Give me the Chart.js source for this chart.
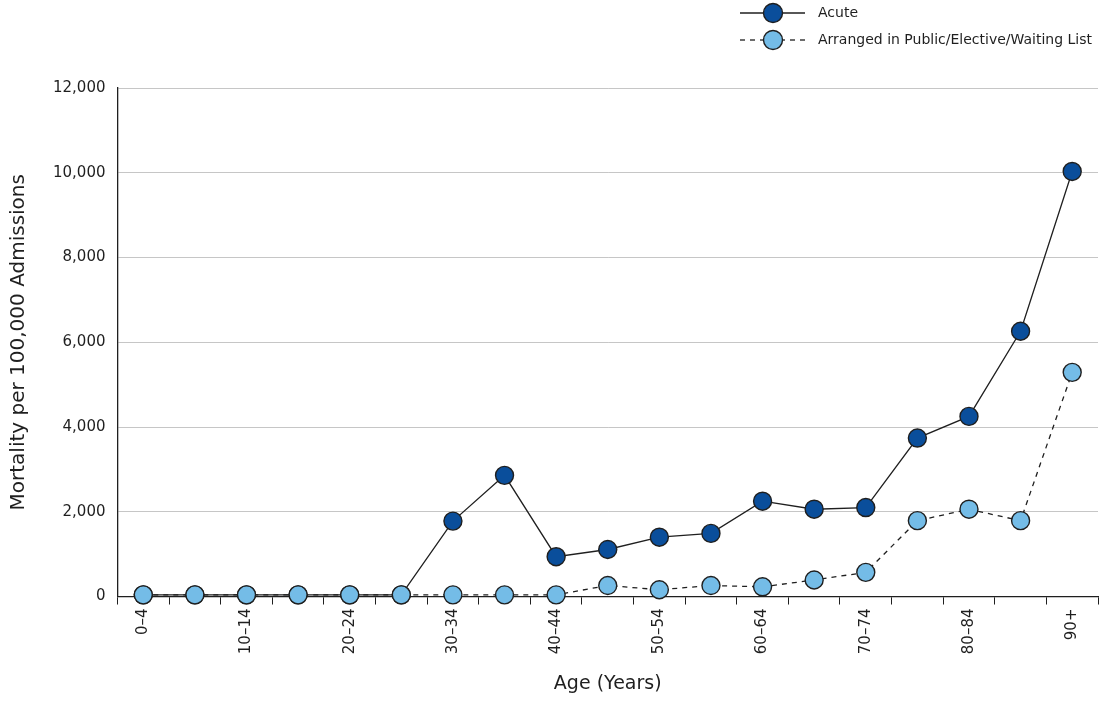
<!DOCTYPE html>
<html>
<head>
<meta charset="utf-8">
<script src="https://cdn.jsdelivr.net/npm/chart.js@4/dist/chart.umd.min.js"></script>
<style>
    html, body { margin: 0; padding: 0; background: #fff; }
    #wrap { width: 1104px; height: 713px; position: relative; }
</style>
</head>
<body>
<div id="wrap"><canvas id="mortalityChart"></canvas></div>
<script>
// age groups (x axis)
const ageGroups = ['0–4', '5–9', '10–14', '15–19', '20–24', '25–29', '30–34', '35–39', '40–44',
    '45–49', '50–54', '55–59', '60–64', '65–69', '70–74', '75–79', '80–84', '85–89', '90+'];

// mortality per 100,000 admissions
const acuteValues = [40, 40, 40, 40, 40, 40, 1780, 2860, 940, 1110, 1400, 1490, 2250, 2060, 2100, 3740, 4250, 6260, 10030];
const arrangedValues = [40, 40, 40, 40, 40, 40, 40, 40, 40, 260, 160, 260, 230, 390, 570, 1790, 2060, 1790, 5290];

const seriesNames = ['Acute', 'Arranged in Public/Elective/Waiting List'];

const FONT = '"DejaVu Sans", sans-serif';
const INK = '#1f1f1f';

// legend drawn by hand: line + marker + label, stacked top right
const stackedLegend = {
    id: 'stackedLegend',
    afterDraw(chart) {
        const ctx = chart.ctx;
        const x0 = 740, x1 = 805, xm = 773, xt = 818;
        const rows = [13, 40];
        chart.data.datasets.forEach(function (ds, i) {
            const y = rows[i];
            ctx.save();
            ctx.strokeStyle = ds.borderColor;
            ctx.lineWidth = ds.borderWidth;
            ctx.setLineDash(ds.borderDash || []);
            ctx.beginPath();
            ctx.moveTo(x0, y);
            ctx.lineTo(x1, y);
            ctx.stroke();
            ctx.setLineDash([]);
            ctx.beginPath();
            ctx.arc(xm, y, 9.5, 0, Math.PI * 2);
            ctx.fillStyle = ds.pointBackgroundColor;
            ctx.fill();
            ctx.lineWidth = ds.pointBorderWidth;
            ctx.strokeStyle = ds.pointBorderColor;
            ctx.stroke();
            ctx.fillStyle = INK;
            ctx.font = '14px ' + FONT;
            ctx.textBaseline = 'middle';
            ctx.textAlign = 'left';
            ctx.fillText(ds.label, xt, y);
            ctx.restore();
        });
    }
};

const ctx = document.getElementById('mortalityChart').getContext('2d');
const mortalityChart = new Chart(ctx, {
    type: 'line',
    data: {
        labels: ageGroups,
        datasets: [{
            label: seriesNames[0],
            data: acuteValues,
            borderColor: INK,
            borderWidth: 1.3,
            pointRadius: 9,
            pointHoverRadius: 9,
            pointBackgroundColor: '#0a4e9b',
            pointBorderColor: INK,
            pointBorderWidth: 1.4,
            tension: 0,
            clip: false,
            order: 1
        }, {
            label: seriesNames[1],
            data: arrangedValues,
            borderColor: INK,
            borderWidth: 1.3,
            borderDash: [5, 5],
            pointRadius: 9,
            pointHoverRadius: 9,
            pointBackgroundColor: '#74bce7',
            pointBorderColor: INK,
            pointBorderWidth: 1.4,
            tension: 0,
            clip: false,
            order: 0
        }]
    },
    options: {
        responsive: true,
        maintainAspectRatio: false,
        animation: false,
        layout: {
            autoPadding: false,
            padding: { top: 88, right: 6, bottom: 14, left: 3 }
        },
        plugins: {
            legend: { display: false },
            tooltip: { enabled: false }
        },
        scales: {
            x: {
                offset: true,
                // rotated labels sit well inside the axis, no extra room needed at the right end
                afterFit: function (scale) { scale.paddingRight = 0; },
                grid: {
                    offset: true,
                    drawOnChartArea: false,
                    drawTicks: true,
                    tickLength: 8,
                    color: INK
                },
                border: { color: INK, width: 1.3 },
                ticks: {
                    autoSkip: false,
                    maxRotation: 90,
                    minRotation: 90,
                    padding: 4,
                    color: INK,
                    font: { family: FONT, size: 15 },
                    callback: function (value, index) {
                        return index % 2 === 0 ? this.getLabelForValue(value) : '';
                    }
                },
                title: {
                    display: true,
                    text: 'Age (Years)',
                    color: INK,
                    font: { family: FONT, size: 19 },
                    padding: { top: 14 }
                }
            },
            y: {
                min: 0,
                max: 12000,
                grid: {
                    color: '#c6c6c6',
                    drawTicks: false
                },
                border: { color: INK, width: 1.3 },
                ticks: {
                    stepSize: 2000,
                    padding: 12,
                    color: INK,
                    font: { family: FONT, size: 15 },
                    callback: function (v) { return v.toLocaleString('en-US'); }
                },
                title: {
                    display: true,
                    text: 'Mortality per 100,000 Admissions',
                    color: INK,
                    font: { family: FONT, size: 20 },
                    padding: { bottom: 10 }
                }
            }
        }
    },
    plugins: [stackedLegend]
});
</script>
</body>
</html>
